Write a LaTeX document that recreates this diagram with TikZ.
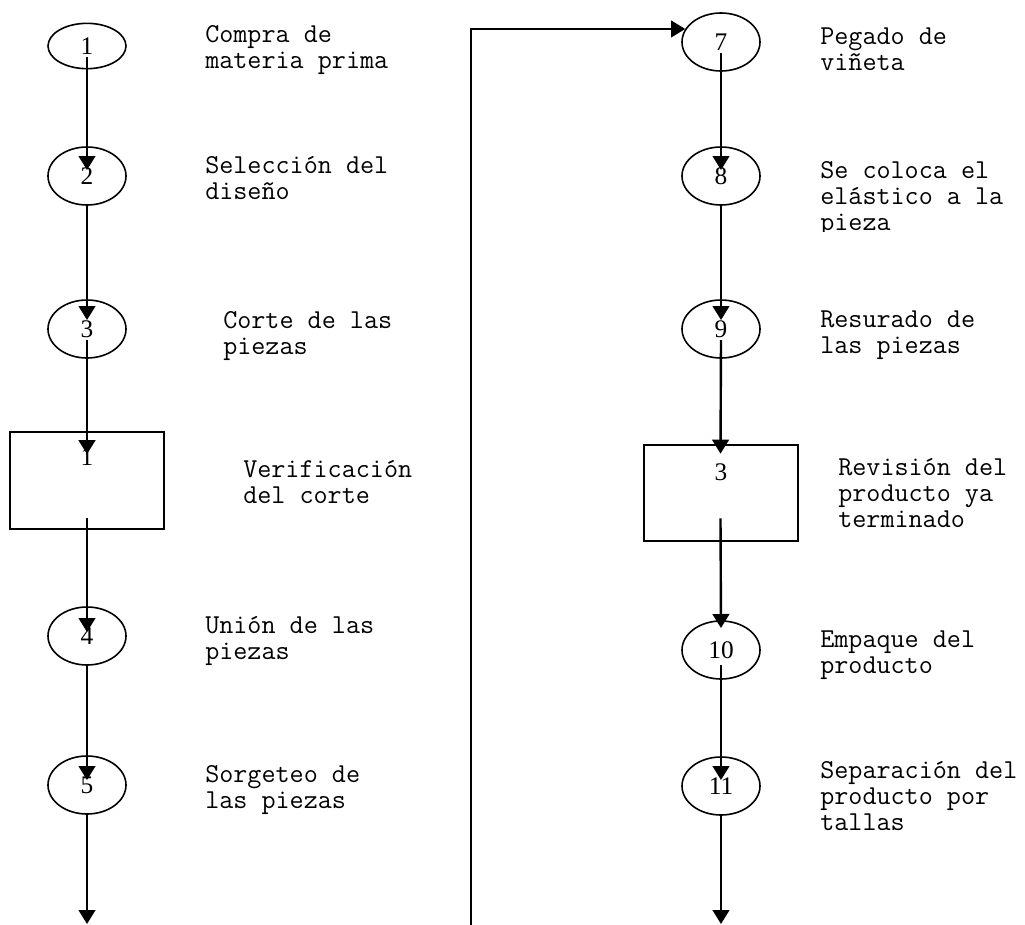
\documentclass[tikz,border=0pt]{standalone}
\usepackage{fontspec}
\setmainfont{Liberation Serif}
\usetikzlibrary{shapes.geometric,arrows.meta,calc}

% step numbers (serif) and step descriptions (typewriter)
\newcommand{\numfont}{\fontsize{19pt}{20pt}\selectfont}
\newcommand{\notefont}{\ttfamily\fontsize{20.5pt}{19.5pt}\selectfont}
% fixed-height strut so every description hangs from the same first baseline
\newcommand{\fl}{\rule{0pt}{16pt}}

\begin{document}
\begin{tikzpicture}[x=0.75pt,y=-0.75pt,
  op/.style={ellipse,draw,line width=1.2pt,minimum width=58.5pt,
    minimum height=43.5pt,inner sep=0pt,font=\numfont},
  opflat/.style={op,minimum height=34pt},
  insp/.style={rectangle,draw,line width=1.5pt,minimum width=115.5pt,
    minimum height=72.5pt,inner sep=0pt},
  num/.style={inner sep=0pt,font=\numfont},
  note/.style={anchor=north west,align=left,inner sep=0pt,font=\notefont},
  flow/.style={line width=1.8pt,-{Triangle[width=12.5pt,length=10.5pt]}},
  link/.style={line width=1.2pt,-{Triangle[width=12.5pt,length=10.5pt]}}]

\useasboundingbox (0,0) rectangle (1025,925);

% ---------- first column ----------
\node[opflat] (e1) at (87,46)  {1};
\node[op]     (e2) at (87,176) {2};
\node[op]     (e3) at (87,329) {3};
\node[insp]   (b1) at (87,480.5) {};
\node[num]    (b1n) at (87,457) {1};
\node[op]     (e4) at (87,636) {4};
\node[op]     (e5) at (87,785) {5};
\coordinate   (lend) at (87,924);

\node[note] (t1) at (205,20.7)  {\fl Compra de\\materia prima};
\node[note] (t2) at (205,151.7) {\fl Selección del\\diseño};
\node[note] (t3) at (223,306.7) {\fl Corte de las\\piezas};
\node[note] (t4) at (243,455.7) {\fl Verificación\\del corte};
\node[note] (t5) at (205,611.7) {\fl Unión de las\\piezas};
\node[note] (t6) at (205,760.7) {\fl Sorgeteo de\\las piezas};

\draw[flow] ($(e1.center)+(0,11)$) -- ($(e2.center)+(0,-6)$);
\draw[flow] (e2.south) -- ($(e3.center)+(0,-9)$);
\draw[flow] ($(e3.center)+(0,11)$) -- ($(b1.north)+(0,23)$);
\draw[flow] ($(b1.south)+(0,-12)$) -- ($(e4.center)+(0,-4)$);
\draw[flow] (e4.south) -- ($(e5.center)+(0,-5)$);
\draw[flow] (e5.south) -- (lend);

% ---------- continuation to the second column ----------
\coordinate (jump) at (471,925);

% ---------- second column ----------
\node[op]   (e7)  at (721,42)  {7};
\node[op]   (e8)  at (721,176) {8};
\node[op]   (e9)  at (721,329) {9};
\node[insp] (b3)  at (720.5,493) {};
\node[num]  (b3n) at (721,472) {3};
\node[op]   (e10) at (721,650) {10};
\node[op]   (e11) at (721,786) {11};
\coordinate (rend) at (721,924);

\draw[link] (jump) |- (e7.160);

\node[note] (t7)  at (820,22.7)  {\fl Pegado de\\viñeta};
\begin{scope}
  \clip (780,140) rectangle (1025,231);
  \node[note] (t8) at (820,156.7) {\fl Se coloca el\\elástico a la\\pieza};
\end{scope}
\node[note] (t9)  at (820,305.7) {\fl Resurado de\\las piezas};
\node[note] (t10) at (838,453.7) {\fl Revisión del\\producto ya\\terminado};
\node[note] (t11) at (820,625.7) {\fl Empaque del\\producto};
\node[note] (t12) at (820,756.7) {\fl Separación del\\producto por\\tallas};

\draw[flow] ($(e7.center)+(0,11)$) -- ($(e8.center)+(0,-6)$);
\draw[flow] (e8.south) -- ($(e9.center)+(0,-9)$);
\draw[flow] ($(e9.center)+(0,11)$) -- ($(b3.north)+(0,10)$);
\draw[flow] ($(b3.south)+(0,-24)$) -- ($(e10.center)+(0,-22)$);
\draw[flow] ($(e10.center)+(0,15)$) -- ($(e11.center)+(0,-6)$);
\draw[flow] (e11.south) -- (rend);

\end{tikzpicture}
\end{document}
